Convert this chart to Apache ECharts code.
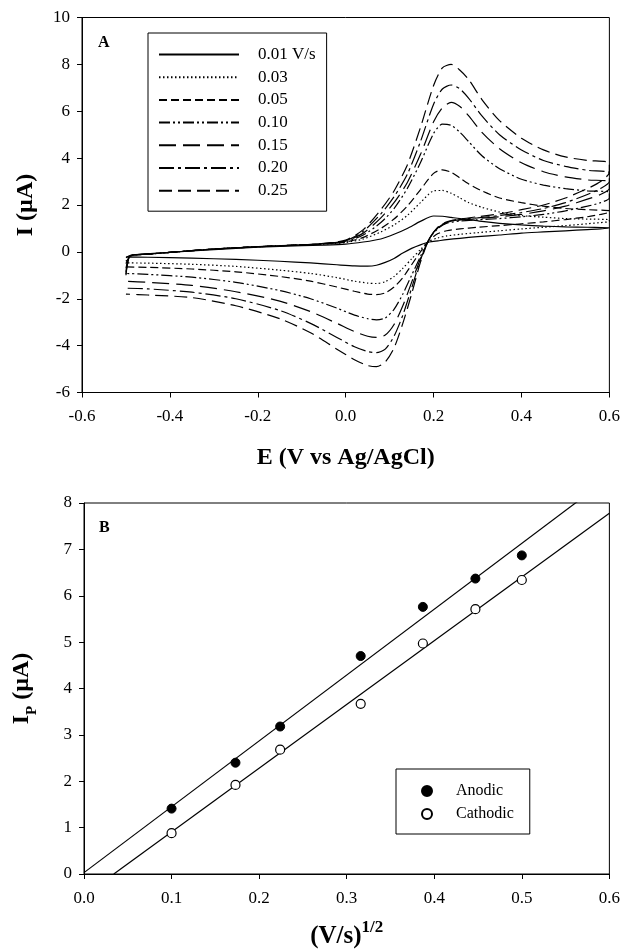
<!DOCTYPE html>
<html>
<head>
<meta charset="utf-8">
<script src="https://cdn.jsdelivr.net/npm/echarts@6.0.0/dist/echarts.min.js"></script>
<style>
html, body { margin: 0; padding: 0; background: #fff; }
#main { width: 623px; height: 952px; }
</style>
</head>
<body>
<div id="main"></div>
<script>
// panel A: cyclic voltammograms, forward scan then reverse scan
var fwdE = [-0.5, -0.49, -0.45, -0.4, -0.3, -0.2, -0.1, -0.05, 0.0, 0.04, 0.08, 0.11, 0.14, 0.17, 0.2, 0.22, 0.24, 0.26, 0.28, 0.31, 0.35, 0.4, 0.45, 0.5, 0.55, 0.6];
var revE = [0.6, 0.58, 0.55, 0.5, 0.45, 0.4, 0.35, 0.3, 0.26, 0.23, 0.21, 0.19, 0.17, 0.15, 0.13, 0.11, 0.09, 0.07, 0.05, 0.02, -0.02, -0.08, -0.15, -0.25, -0.35, -0.45, -0.5];

var rateNames = ['0.01 V/s', '0.03', '0.05', '0.10', '0.15', '0.20', '0.25'];

var fwd001 = [-0.25, -0.15, -0.08, -0.02, 0.1, 0.2, 0.27, 0.29, 0.33, 0.42, 0.55, 0.75, 1.0, 1.3, 1.53, 1.52, 1.47, 1.42, 1.38, 1.3, 1.22, 1.15, 1.1, 1.07, 1.05, 1.03];
var fwd003 = [-0.4, -0.17, -0.1, -0.02, 0.12, 0.22, 0.3, 0.33, 0.4, 0.55, 0.85, 1.15, 1.55, 2.1, 2.6, 2.62, 2.5, 2.3, 2.1, 1.9, 1.7, 1.55, 1.48, 1.42, 1.4, 1.37];
var fwd005 = [-0.5, -0.17, -0.1, -0.02, 0.12, 0.22, 0.3, 0.34, 0.42, 0.62, 1.0, 1.4, 1.95, 2.65, 3.35, 3.5, 3.4, 3.15, 2.9, 2.6, 2.3, 2.1, 1.95, 1.85, 1.8, 1.75];
var fwd010 = [-0.7, -0.18, -0.1, -0.02, 0.12, 0.22, 0.3, 0.34, 0.44, 0.72, 1.25, 1.85, 2.7, 3.8, 5.05, 5.45, 5.4, 5.1, 4.7, 4.1, 3.55, 3.1, 2.85, 2.7, 2.6, 2.55];
var fwd015 = [-0.85, -0.18, -0.1, -0.02, 0.12, 0.22, 0.3, 0.35, 0.46, 0.8, 1.45, 2.1, 2.95, 4.15, 5.55, 6.15, 6.38, 6.2, 5.8, 5.1, 4.4, 3.8, 3.42, 3.2, 3.07, 3.0];
var fwd020 = [-0.95, -0.18, -0.1, -0.02, 0.12, 0.22, 0.3, 0.35, 0.48, 0.88, 1.62, 2.35, 3.3, 4.7, 6.3, 6.95, 7.12, 6.95, 6.55, 5.8, 5.0, 4.35, 3.9, 3.65, 3.48, 3.38];
var fwd025 = [-1.0, -0.18, -0.1, -0.02, 0.12, 0.22, 0.3, 0.36, 0.5, 0.95, 1.8, 2.6, 3.7, 5.3, 7.1, 7.85, 8.0, 7.75, 7.35, 6.5, 5.6, 4.85, 4.35, 4.05, 3.9, 3.8];

var rev001 = [1.0, 0.98, 0.95, 0.9, 0.85, 0.8, 0.72, 0.65, 0.58, 0.52, 0.47, 0.42, 0.3, 0.15, -0.05, -0.28, -0.45, -0.57, -0.61, -0.6, -0.55, -0.47, -0.4, -0.32, -0.27, -0.23, -0.21];
var rev003 = [1.3, 1.25, 1.2, 1.12, 1.05, 0.98, 0.9, 0.82, 0.75, 0.68, 0.6, 0.45, 0.1, -0.3, -0.7, -1.05, -1.27, -1.35, -1.33, -1.25, -1.1, -0.92, -0.78, -0.62, -0.53, -0.48, -0.47];
var rev005 = [1.7, 1.6, 1.5, 1.38, 1.28, 1.2, 1.12, 1.05, 0.98, 0.9, 0.78, 0.5, 0.0, -0.55, -1.1, -1.5, -1.75, -1.82, -1.8, -1.68, -1.5, -1.25, -1.05, -0.85, -0.73, -0.66, -0.64];
var rev010 = [2.3, 2.1, 1.95, 1.75, 1.6, 1.5, 1.42, 1.37, 1.32, 1.22, 1.0, 0.55, -0.2, -1.0, -1.8, -2.45, -2.82, -2.9, -2.85, -2.7, -2.4, -2.0, -1.65, -1.3, -1.08, -0.96, -0.92];
var rev015 = [2.7, 2.45, 2.25, 1.95, 1.75, 1.6, 1.5, 1.42, 1.36, 1.25, 1.03, 0.55, -0.3, -1.3, -2.3, -3.1, -3.55, -3.65, -3.6, -3.4, -3.05, -2.55, -2.1, -1.7, -1.43, -1.3, -1.25];
var rev020 = [3.0, 2.7, 2.45, 2.1, 1.85, 1.68, 1.55, 1.45, 1.38, 1.27, 1.05, 0.55, -0.35, -1.55, -2.7, -3.6, -4.15, -4.3, -4.25, -4.05, -3.65, -3.05, -2.5, -2.0, -1.72, -1.58, -1.55];
var rev025 = [3.4, 3.0, 2.7, 2.3, 2.0, 1.8, 1.62, 1.5, 1.4, 1.28, 1.05, 0.55, -0.45, -1.8, -3.05, -4.1, -4.7, -4.9, -4.85, -4.6, -4.15, -3.45, -2.85, -2.3, -1.95, -1.84, -1.8];

// panel B: peak currents vs square root of scan rate
var sqrtRate = [0.1, 0.173, 0.224, 0.316, 0.387, 0.447, 0.5];
var anodicIp = [1.41, 2.4, 3.18, 4.7, 5.76, 6.37, 6.87];
var cathodicIp = [0.88, 1.92, 2.68, 3.67, 4.97, 5.71, 6.34];
var anodicFitX = [0, 0.6];
var anodicFitY = [0.03, 8.55];
var cathodicFitX = [0.034, 0.6];
var cathodicFitY = [0, 7.78];

var serif = '"Liberation Serif", "DejaVu Serif", serif';

function pairs(xs, ys) {
	return xs.map(function(x, i){ return [x, ys[i]]; });
}

var fwdList = [fwd001, fwd003, fwd005, fwd010, fwd015, fwd020, fwd025];
var revList = [rev001, rev003, rev005, rev010, rev015, rev020, rev025];
var dashTypes = [
	'solid',
	[1.5, 2.5],
	[8, 4],
	[11, 3, 2, 3, 2, 3],
	[17, 7],
	[15, 4, 3, 4],
	[13, 6]
];

var cvSeries = rateNames.map(function(name, k){
	return {
		name: name,
		type: 'line',
		xAxisIndex: 0,
		yAxisIndex: 0,
		symbol: 'none',
		smooth: 0.25,
		data: pairs(fwdE, fwdList[k]).concat(pairs(revE, revList[k])),
		lineStyle: { color: '#000', width: 1.2, type: dashTypes[k] },
		itemStyle: { color: '#000' },
		emphasis: { disabled: true }
	};
});

function axisCommon(){
	return {
		type: 'value',
		splitLine: { show: false },
		axisLine: { show: true, onZero: false, lineStyle: { color: '#000', width: 1 } },
		axisTick: { show: true, inside: false, length: 5, lineStyle: { color: '#000' } },
		axisLabel: { color: '#000', fontFamily: serif, fontSize: 17 },
		nameLocation: 'middle',
		nameTextStyle: { color: '#000', fontFamily: serif, fontWeight: 'bold', fontSize: 24 }
	};
}

var xA = axisCommon();
xA.gridIndex = 0; xA.min = -0.6; xA.max = 0.6; xA.interval = 0.2;
xA.axisLabel.margin = 16;
xA.axisLabel.formatter = function(v){ return v.toFixed(1); };
xA.name = 'E (V vs Ag/AgCl)'; xA.nameGap = 53;

var yA = axisCommon();
yA.gridIndex = 0; yA.min = -6; yA.max = 10; yA.interval = 2;
yA.axisLabel.margin = 12;
yA.name = 'I (\u00b5A)'; yA.nameGap = 44;

var xB = axisCommon();
xB.gridIndex = 1; xB.min = 0; xB.max = 0.6; xB.interval = 0.1;
xB.axisLabel.margin = 16;
xB.axisLabel.formatter = function(v){ return v.toFixed(1); };
xB.name = '{b|(V/s)}{p|1/2}'; xB.nameGap = 45;
xB.nameTextStyle.rich = {
	b: { fontFamily: serif, fontWeight: 'bold', fontSize: 25, color: '#000', lineHeight: 30, verticalAlign: 'bottom' },
	p: { fontFamily: serif, fontWeight: 'bold', fontSize: 17, color: '#000', lineHeight: 30, verticalAlign: 'top' }
};

var yB = axisCommon();
yB.gridIndex = 1; yB.min = 0; yB.max = 8; yB.interval = 1;
yB.axisLabel.margin = 12;
yB.name = '{b|I}{s|P}{b| (\u00b5A)}'; yB.nameGap = 44;
yB.nameTextStyle.rich = {
	b: { fontFamily: serif, fontWeight: 'bold', fontSize: 24, color: '#000', lineHeight: 30, verticalAlign: 'top' },
	s: { fontFamily: serif, fontWeight: 'bold', fontSize: 15, color: '#000', lineHeight: 30, verticalAlign: 'bottom' }
};

var chart = echarts.init(document.getElementById('main'));
var option = {
	backgroundColor: '#fff',
	animation: false,
	grid: [
		{ left: 82, top: 17.5, width: 528, height: 375, show: true, borderColor: '#000', borderWidth: 1, backgroundColor: 'transparent' },
		{ left: 84, top: 503, width: 528, height: 371, show: true, borderColor: '#000', borderWidth: 1, backgroundColor: 'transparent' }
	],
	xAxis: [xA, xB],
	yAxis: [yA, yB],
	legend: [
		{
			data: rateNames,
			orient: 'vertical',
			left: 148,
			top: 33,
			padding: [13, 11, 12, 10],
			itemWidth: 80,
			itemHeight: 14,
			itemGap: 5.7,
			selectedMode: false,
			borderColor: '#000',
			borderWidth: 1,
			itemStyle: { color: 'rgba(0,0,0,0)', borderWidth: 0, opacity: 0 },
			textStyle: { color: '#000', fontFamily: serif, fontSize: 17, lineHeight: 16, padding: [0, 0, 0, 14] }
		},
		{
			data: ['Anodic', 'Cathodic'],
			orient: 'vertical',
			left: 396,
			top: 769,
			padding: [14, 16, 12, 25],
			itemWidth: 10,
			itemHeight: 10,
			itemGap: 7,
			selectedMode: false,
			borderColor: '#000',
			borderWidth: 1,
			textStyle: { color: '#000', fontFamily: serif, fontSize: 16, lineHeight: 16, padding: [0, 0, 0, 19] }
		}
	],
	graphic: [
		{ type: 'text', left: 98, top: 35, style: { text: 'A', font: 'bold 16px ' + serif, fill: '#000' } },
		{ type: 'text', left: 99, top: 520, style: { text: 'B', font: 'bold 16px ' + serif, fill: '#000' } }
	],
	series: cvSeries.concat([
		{
			name: 'Anodic fit',
			type: 'line',
			xAxisIndex: 1, yAxisIndex: 1,
			symbol: 'none',
			data: pairs(anodicFitX, anodicFitY),
			lineStyle: { color: '#000', width: 1.2 },
			emphasis: { disabled: true }
		},
		{
			name: 'Cathodic fit',
			type: 'line',
			xAxisIndex: 1, yAxisIndex: 1,
			symbol: 'none',
			data: pairs(cathodicFitX, cathodicFitY),
			lineStyle: { color: '#000', width: 1.2 },
			emphasis: { disabled: true }
		},
		{
			name: 'Anodic',
			type: 'scatter',
			xAxisIndex: 1, yAxisIndex: 1,
			symbol: 'circle',
			symbolSize: 9,
			data: pairs(sqrtRate, anodicIp),
			itemStyle: { color: '#000', borderColor: '#000', borderWidth: 1, opacity: 1 },
			emphasis: { disabled: true },
			z: 5
		},
		{
			name: 'Cathodic',
			type: 'scatter',
			xAxisIndex: 1, yAxisIndex: 1,
			symbol: 'circle',
			symbolSize: 9,
			data: pairs(sqrtRate, cathodicIp),
			itemStyle: { color: '#fff', borderColor: '#000', borderWidth: 1.2, opacity: 1 },
			emphasis: { disabled: true },
			z: 5
		}
	])
};
chart.setOption(option);
window.addEventListener('resize', function(){ chart.resize(); });
</script>
</body>
</html>
